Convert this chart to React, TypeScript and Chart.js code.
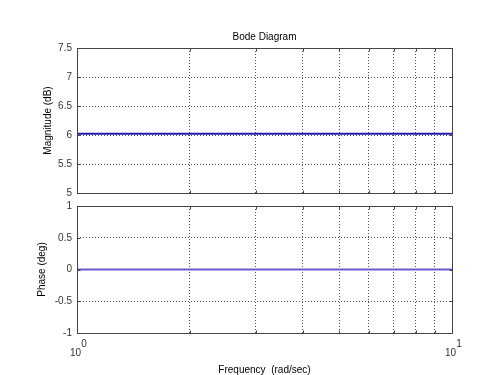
import React, { useEffect, useRef } from 'react';
import { Chart, registerables } from 'chart.js';

Chart.register(...registerables);

// ---- data ----
const frequency = [1, 10];
const magnitudeDb = [6.02, 6.02];
const phaseDeg = [0, 0];
const freqGrid = [1, 2, 3, 4, 5, 6, 7, 8, 9, 10];
const magTicks = [5, 5.5, 6, 6.5, 7, 7.5];
const phaseTicks = [-1, -0.5, 0, 0.5, 1];
const decadeLabels: Record<number, string[]> = {
  1: ['     0', '10 '],
  10: ['     1', '10 '],
};

const FONT = "'Liberation Sans', Arial, Helvetica, sans-serif";
const GRID_COLOR = '#555';
const BOX_COLOR = '#444';
const TICK_COLOR = '#333';
const TICK_LEN = 3;

const boxPlugin = {
  id: 'matlabBox',
  afterDraw(chart: any) {
    const { ctx, chartArea: a, scales } = chart;
    const L = Math.round(a.left) + 0.5;
    const T = Math.round(a.top) + 0.5;
    const R = Math.round(a.right) + 0.5;
    const B = Math.round(a.bottom) + 0.5;
    ctx.save();
    ctx.strokeStyle = BOX_COLOR;
    ctx.lineWidth = 1;
    ctx.setLineDash([]);
    ctx.beginPath();
    ctx.rect(L, T, R - L, B - T);
    // inside tick marks on all four sides
    for (const t of scales.x.ticks) {
      const x = Math.round(scales.x.getPixelForValue(t.value)) + 0.5;
      ctx.moveTo(x, B);
      ctx.lineTo(x, B - TICK_LEN);
      ctx.moveTo(x, T);
      ctx.lineTo(x, T + TICK_LEN);
    }
    for (const t of scales.y.ticks) {
      const y = Math.round(scales.y.getPixelForValue(t.value)) + 0.5;
      ctx.moveTo(L, y);
      ctx.lineTo(L + TICK_LEN, y);
      ctx.moveTo(R, y);
      ctx.lineTo(R - TICK_LEN, y);
    }
    ctx.stroke();
    ctx.restore();
  },
};

function xScale(showLabels: boolean, height: number, withTitle: boolean) {
  return {
    type: 'logarithmic',
    min: 1,
    max: 10,
    afterBuildTicks: (s: any) => {
      s.ticks = freqGrid.map((v) => ({ value: v, major: v === 1 || v === 10 }));
    },
    afterFit: (s: any) => {
      s.height = height;
      s.paddingLeft = 0;
      s.paddingRight = 0;
    },
    border: { display: false, dash: [1, 2] },
    grid: { color: GRID_COLOR, lineWidth: 1, drawTicks: false },
    ticks: {
      display: showLabels,
      autoSkip: false,
      maxRotation: 0,
      padding: 6,
      color: TICK_COLOR,
      font: { family: FONT, size: 10, lineHeight: 0.95 },
      callback: (v: any) => decadeLabels[Number(v)] ?? '',
    },
    title: {
      display: withTitle,
      text: 'Frequency  (rad/sec)',
      color: '#000',
      font: { family: FONT, size: 10, lineHeight: '10px' },
      padding: { top: 0, bottom: 0 },
    },
  };
}

function yScale(min: number, max: number, ticks: number[], title: string, titlePad: number) {
  return {
    type: 'linear',
    min,
    max,
    afterBuildTicks: (s: any) => {
      s.ticks = ticks.map((v) => ({ value: v }));
    },
    afterFit: (s: any) => {
      s.width = 77;
      s.paddingTop = 0;
      s.paddingBottom = 0;
    },
    border: { display: false, dash: [1, 2] },
    grid: { color: GRID_COLOR, lineWidth: 1, drawTicks: false },
    ticks: {
      padding: 5,
      color: TICK_COLOR,
      font: { family: FONT, size: 10 },
      callback: (v: any) => String(Number(v)),
    },
    title: {
      display: true,
      text: title,
      color: '#000',
      font: { family: FONT, size: 10, lineHeight: '14px' },
      padding: { top: titlePad, bottom: 0 },
    },
  };
}

export default function App() {
  const topRef = useRef<HTMLCanvasElement>(null);
  const botRef = useRef<HTMLCanvasElement>(null);

  useEffect(() => {
    const magPoints = frequency.map((f, i) => ({ x: f, y: magnitudeDb[i] }));
    const phasePoints = frequency.map((f, i) => ({ x: f, y: phaseDeg[i] }));

    const top = new Chart(topRef.current as HTMLCanvasElement, {
      type: 'line',
      data: {
        datasets: [
          {
            data: magPoints,
            borderColor: '#1c1cb4',
            borderWidth: 2,
            pointRadius: 0,
            tension: 0,
          },
        ],
      },
      options: {
        responsive: false,
        animation: false,
        layout: { padding: { left: 0, right: 48, top: 0, bottom: 7 } },
        plugins: {
          legend: { display: false },
          tooltip: { enabled: false },
          title: {
            display: true,
            text: 'Bode Diagram',
            fullSize: false,
            color: '#000',
            font: { family: FONT, size: 10, weight: 'normal', lineHeight: '14px' },
            padding: { top: 30, bottom: 4 },
          },
        },
        scales: {
          x: xScale(false, 0, false),
          y: yScale(5, 7.5, magTicks, 'Magnitude (dB)', 41),
        },
      } as any,
      plugins: [boxPlugin],
    });

    const bot = new Chart(botRef.current as HTMLCanvasElement, {
      type: 'line',
      data: {
        datasets: [
          {
            data: phasePoints,
            borderColor: '#6a5acd',
            borderWidth: 2,
            pointRadius: 0,
            tension: 0,
          },
        ],
      },
      options: {
        responsive: false,
        animation: false,
        layout: { padding: { left: 0, right: 48, top: 6, bottom: 0 } },
        plugins: {
          legend: { display: false },
          tooltip: { enabled: false },
        },
        scales: {
          x: xScale(true, 42, true),
          y: yScale(-1, 1, phaseTicks, 'Phase (deg)', 35),
        },
      } as any,
      plugins: [boxPlugin],
    });

    return () => {
      top.destroy();
      bot.destroy();
    };
  }, []);

  return (
    <div
      style={{
        position: 'fixed',
        left: 0,
        top: 0,
        width: 500,
        height: 375,
        background: '#fff',
        overflow: 'hidden',
      }}
    >
      <canvas
        ref={topRef}
        width={500}
        height={200}
        style={{ position: 'absolute', left: 0, top: 0, display: 'block' }}
      />
      <canvas
        ref={botRef}
        width={500}
        height={175}
        style={{ position: 'absolute', left: 0, top: 200, display: 'block' }}
      />
    </div>
  );
}
